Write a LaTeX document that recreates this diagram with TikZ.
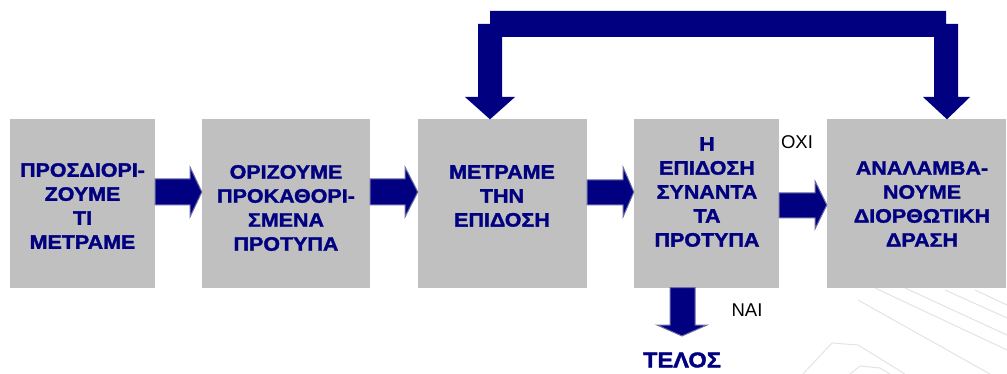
\documentclass[tikz,border=0pt]{standalone}
\usepackage{fontspec}
\setmainfont{Liberation Sans}
\newfontfamily\boxfont{Liberation Sans Bold}[FakeStretch=1.1,FakeBold=1.6]
\newfontfamily\lblfont{Liberation Sans}
\definecolor{navy}{HTML}{000080}
\definecolor{boxgray}{HTML}{C0C0C0}
\definecolor{arrowedge}{HTML}{6C6CA8}
\begin{document}
\begin{tikzpicture}[x=1pt,y=-1pt,
  stepbox/.style={fill=boxgray,draw=none,inner sep=0pt},
  boxtext/.style={text=navy,align=center,font=\boxfont\fontsize{19.5}{24}\selectfont,inner sep=0pt},
  blockarrow/.style={fill=navy,draw=arrowedge,line width=1pt,line join=miter},
  yesno/.style={font=\lblfont\fontsize{18.5}{20}\selectfont,text=black,inner sep=0pt},
  wm/.style={draw=gray!22,line width=1pt}
]
\useasboundingbox (0,0) rectangle (1007,374);
% watermark
\draw[wm] (875,288) -- (1007,350);
\draw[wm] (905,288) -- (1007,335);
\draw[wm] (945,290) -- (1007,318);
\draw[wm] (975,290) -- (1007,305);
\draw[wm] (858,300) -- (990,374);
\draw[wm] (803,374) -- (832,343) -- (858,345) -- (905,374);
\draw[wm] (850,374) -- (860,366) -- (880,368) -- (890,374);
% boxes
\node[stepbox,minimum width=145pt,minimum height=168pt] (b1) at (82.5,203.5) {};
\node[stepbox,minimum width=168pt,minimum height=168pt] (b2) at (286,203.5) {};
\node[stepbox,minimum width=169pt,minimum height=168pt] (b3) at (502.5,203.5) {};
\node[stepbox,minimum width=145pt,minimum height=168pt] (b4) at (706.5,203.5) {};
\node[stepbox,minimum width=179pt,minimum height=168pt] (b5) at (916.5,203.5) {};
% texts
\node[boxtext] (t1) at (82.5,206) {ΠΡΟΣΔΙΟΡΙ-\\ΖΟΥΜΕ\\ΤΙ\\ΜΕΤΡΑΜΕ};
\node[boxtext] (t2) at (286,208) {ΟΡΙΖΟΥΜΕ\\ΠΡΟΚΑΘΟΡΙ-\\ΣΜΕΝΑ\\ΠΡΟΤΥΠΑ};
\node[boxtext] (t3) at (502,196) {ΜΕΤΡΑΜΕ\\ΤΗΝ\\ΕΠΙΔΟΣΗ};
\node[boxtext] (t4) at (707,192) {Η\\ΕΠΙΔΟΣΗ\\ΣΥΝΑΝΤΑ\\ΤΑ\\ΠΡΟΤΥΠΑ};
\node[boxtext] (t5) at (922,204) {ΑΝΑΛΑΜΒΑ-\\ΝΟΥΜΕ\\ΔΙΟΡΘΩΤΙΚΗ\\ΔΡΑΣΗ};
\node[boxtext,font=\boxfont\fontsize{21.5}{24}\selectfont] (end) at (682,360) {ΤΕΛΟΣ};
\node[yesno] (no) at (797,142) {ΟΧΙ};
\node[yesno] (yes) at (747,310) {ΝΑΙ};
% horizontal block arrows
\path[blockarrow] (b1.east |- 0,179) -- (190,179) -- (190,167) -- (b2.west |- 0,192) -- (190,217) -- (190,205) -- (b1.east |- 0,205) -- cycle;
\path[blockarrow] (b2.east |- 0,179) -- (405,179) -- (405,167) -- (b3.west |- 0,192) -- (405,217) -- (405,205) -- (b2.east |- 0,205) -- cycle;
\path[blockarrow] (b3.east |- 0,180) -- (623,180) -- (623,167) -- (b4.west |- 0,192) -- (623,217) -- (623,205) -- (b3.east |- 0,205) -- cycle;
\path[blockarrow] (b4.east |- 0,193) -- (815,193) -- (815,181) -- (b5.west |- 0,205) -- (815,229) -- (815,218) -- (b4.east |- 0,218) -- cycle;
% down arrow to end
\path[blockarrow] (670,0 |- b4.south) -- (670,325) -- (657,325) -- (682,336) -- (707,325) -- (695,325) -- (695,0 |- b4.south) -- cycle;
% feedback arrow
\path[fill=navy] (490,11) -- (946,11) -- (946,24) -- (958,24) -- (958,97) -- (970,97) -- (947,0 |- b5.north) -- (923,97) -- (934,97) -- (934,37) -- (502,37) -- (502,97) -- (515,97) -- (490,0 |- b3.north) -- (465,97) -- (478,97) -- (478,24) -- (490,24) -- cycle;
\end{tikzpicture}
\end{document}
